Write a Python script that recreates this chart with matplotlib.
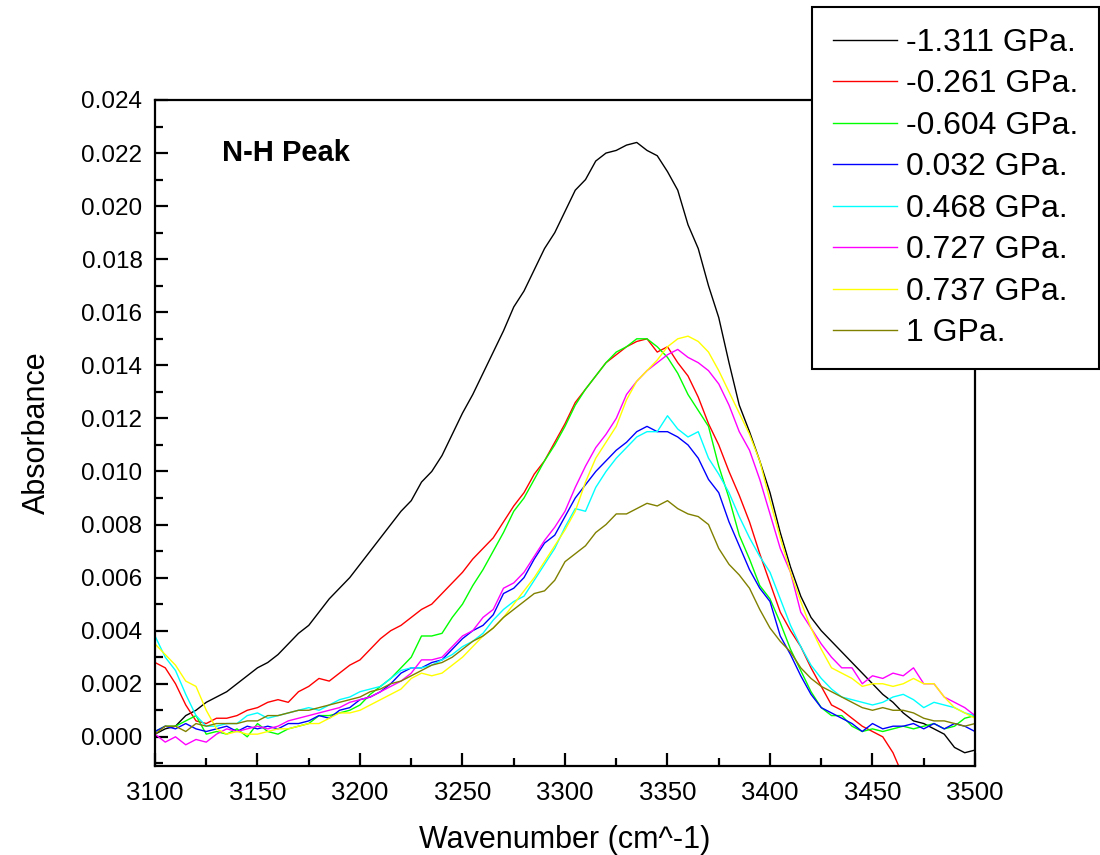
import numpy as np
import matplotlib.pyplot as plt
from matplotlib.ticker import MultipleLocator, FormatStrFormatter

plt.rcParams['font.family'] = ['Liberation Sans', 'DejaVu Sans']

# wavenumber grid (cm^-1), one reading every 5 cm^-1
wn = np.arange(3100, 3501, 5)

labels = ['-1.311 GPa.', '-0.261 GPa.', '-0.604 GPa.', '0.032 GPa.',
          '0.468 GPa.', '0.727 GPa.', '0.737 GPa.', '1 GPa.']
colors = ['#000000', '#ff0000', '#00ff00', '#0000ff',
          '#00ffff', '#ff00ff', '#ffff00', '#808000']

p_m1311 = [0.0001, 0.0003, 0.0004, 0.0008, 0.0010, 0.0013, 0.0015, 0.0017, 0.0020, 0.0023,
           0.0026, 0.0028, 0.0031, 0.0035, 0.0039, 0.0042, 0.0047, 0.0052, 0.0056, 0.0060,
           0.0065, 0.0070, 0.0075, 0.0080, 0.0085, 0.0089, 0.0096, 0.0100, 0.0106, 0.0114,
           0.0122, 0.0129, 0.0137, 0.0145, 0.0153, 0.0162, 0.0168, 0.0176, 0.0184, 0.0190,
           0.0198, 0.0206, 0.0210, 0.0217, 0.0220, 0.0221, 0.0223, 0.0224, 0.0221, 0.0219,
           0.0213, 0.0206, 0.0193, 0.0184, 0.0170, 0.0158, 0.0141, 0.0125, 0.0115, 0.0104,
           0.0092, 0.0077, 0.0064, 0.0053, 0.0045, 0.0040, 0.0036, 0.0032, 0.0028, 0.0024,
           0.0020, 0.0016, 0.0013, 0.0009, 0.0006, 0.0005, 0.0003, 0.0001, -0.0004, -0.0006,
           -0.0005]

p_m0261 = [0.0028, 0.0026, 0.0020, 0.0012, 0.0006, 0.0005, 0.0007, 0.0007, 0.0008, 0.0010,
           0.0011, 0.0013, 0.0014, 0.0013, 0.0017, 0.0019, 0.0022, 0.0021, 0.0024, 0.0027,
           0.0029, 0.0033, 0.0037, 0.0040, 0.0042, 0.0045, 0.0048, 0.0050, 0.0054, 0.0058,
           0.0062, 0.0067, 0.0071, 0.0075, 0.0081, 0.0087, 0.0092, 0.0099, 0.0104, 0.0111,
           0.0118, 0.0126, 0.0131, 0.0136, 0.0141, 0.0144, 0.0147, 0.0149, 0.0150, 0.0145,
           0.0147, 0.0141, 0.0136, 0.0128, 0.0118, 0.0110, 0.0100, 0.0091, 0.0081, 0.0069,
           0.0058, 0.0047, 0.0040, 0.0034, 0.0026, 0.0019, 0.0012, 0.0010, 0.0007, 0.0004,
           0.0002, 0.0000, -0.0006, -0.0015, np.nan, np.nan, np.nan, np.nan, np.nan, np.nan,
           np.nan]

p_m0604 = [0.0002, 0.0004, 0.0004, 0.0006, 0.0008, 0.0001, 0.0002, 0.0001, 0.0003, 0.0000,
           0.0005, 0.0002, 0.0001, 0.0003, 0.0004, 0.0005, 0.0008, 0.0008, 0.0009, 0.0010,
           0.0012, 0.0016, 0.0019, 0.0022, 0.0026, 0.0030, 0.0038, 0.0038, 0.0039, 0.0045,
           0.0050, 0.0057, 0.0063, 0.0070, 0.0077, 0.0085, 0.0090, 0.0097, 0.0104, 0.0110,
           0.0117, 0.0125, 0.0131, 0.0136, 0.0141, 0.0145, 0.0147, 0.0150, 0.0150, 0.0147,
           0.0143, 0.0137, 0.0129, 0.0123, 0.0117, 0.0102, 0.0090, 0.0076, 0.0067, 0.0057,
           0.0052, 0.0043, 0.0033, 0.0025, 0.0017, 0.0011, 0.0008, 0.0008, 0.0004, 0.0002,
           0.0003, 0.0002, 0.0003, 0.0004, 0.0003, 0.0004, 0.0005, 0.0003, 0.0004, 0.0007,
           0.0008]

p_0032 = [0.0002, 0.0004, 0.0003, 0.0005, 0.0003, 0.0002, 0.0003, 0.0004, 0.0002, 0.0004,
          0.0003, 0.0004, 0.0003, 0.0005, 0.0005, 0.0006, 0.0008, 0.0007, 0.0010, 0.0011,
          0.0014, 0.0015, 0.0017, 0.0020, 0.0024, 0.0026, 0.0026, 0.0028, 0.0029, 0.0033,
          0.0037, 0.0040, 0.0042, 0.0046, 0.0054, 0.0056, 0.0060, 0.0067, 0.0073, 0.0076,
          0.0083, 0.0090, 0.0095, 0.0100, 0.0104, 0.0108, 0.0111, 0.0115, 0.0117, 0.0115,
          0.0115, 0.0113, 0.0110, 0.0105, 0.0097, 0.0092, 0.0081, 0.0072, 0.0063, 0.0056,
          0.0051, 0.0038, 0.0031, 0.0023, 0.0016, 0.0011, 0.0009, 0.0007, 0.0005, 0.0002,
          0.0005, 0.0003, 0.0004, 0.0004, 0.0005, 0.0003, 0.0005, 0.0003, 0.0005, 0.0004,
          0.0002]

p_0468 = [0.0038, 0.0030, 0.0025, 0.0016, 0.0008, 0.0004, 0.0004, 0.0005, 0.0005, 0.0008,
          0.0009, 0.0007, 0.0008, 0.0009, 0.0010, 0.0011, 0.0010, 0.0012, 0.0014, 0.0015,
          0.0017, 0.0018, 0.0019, 0.0022, 0.0025, 0.0026, 0.0026, 0.0027, 0.0029, 0.0031,
          0.0034, 0.0036, 0.0039, 0.0044, 0.0048, 0.0051, 0.0053, 0.0059, 0.0065, 0.0071,
          0.0079, 0.0086, 0.0085, 0.0094, 0.0100, 0.0105, 0.0109, 0.0113, 0.0115, 0.0115,
          0.0121, 0.0116, 0.0113, 0.0115, 0.0105, 0.0099, 0.0092, 0.0083, 0.0075, 0.0068,
          0.0062, 0.0052, 0.0042, 0.0034, 0.0027, 0.0022, 0.0018, 0.0015, 0.0014, 0.0013,
          0.0012, 0.0013, 0.0015, 0.0016, 0.0014, 0.0011, 0.0013, 0.0012, 0.0011, 0.0009,
          0.0008]

p_0727 = [0.0001, -0.0002, 0.0000, -0.0003, -0.0001, -0.0002, 0.0001, 0.0003, 0.0002, 0.0003,
          0.0004, 0.0003, 0.0004, 0.0006, 0.0007, 0.0008, 0.0009, 0.0010, 0.0011, 0.0013,
          0.0014, 0.0015, 0.0017, 0.0019, 0.0021, 0.0024, 0.0029, 0.0029, 0.0030, 0.0034,
          0.0038, 0.0040, 0.0045, 0.0048, 0.0056, 0.0058, 0.0062, 0.0068, 0.0074, 0.0079,
          0.0085, 0.0094, 0.0102, 0.0109, 0.0114, 0.0120, 0.0129, 0.0134, 0.0138, 0.0141,
          0.0144, 0.0146, 0.0143, 0.0141, 0.0138, 0.0133, 0.0125, 0.0115, 0.0108, 0.0097,
          0.0084, 0.0071, 0.0062, 0.0047, 0.0041, 0.0035, 0.0030, 0.0026, 0.0026, 0.0020,
          0.0023, 0.0022, 0.0024, 0.0023, 0.0026, 0.0020, 0.0020, 0.0015, 0.0013, 0.0011,
          0.0008]

p_0737 = [0.0035, 0.0031, 0.0027, 0.0021, 0.0019, 0.0010, 0.0003, 0.0001, 0.0002, 0.0001,
          0.0001, 0.0002, 0.0003, 0.0003, 0.0004, 0.0005, 0.0005, 0.0007, 0.0009, 0.0009,
          0.0010, 0.0012, 0.0014, 0.0016, 0.0018, 0.0022, 0.0024, 0.0023, 0.0024, 0.0027,
          0.0030, 0.0034, 0.0038, 0.0041, 0.0045, 0.0050, 0.0055, 0.0060, 0.0066, 0.0072,
          0.0078, 0.0085, 0.0096, 0.0105, 0.0111, 0.0117, 0.0127, 0.0134, 0.0138, 0.0142,
          0.0147, 0.0150, 0.0151, 0.0149, 0.0145, 0.0138, 0.0130, 0.0122, 0.0114, 0.0104,
          0.0089, 0.0075, 0.0062, 0.0051, 0.0041, 0.0033, 0.0026, 0.0024, 0.0022, 0.0019,
          0.0020, 0.0020, 0.0019, 0.0020, 0.0022, 0.0020, 0.0020, 0.0015, 0.0011, 0.0009,
          0.0007]

p_1 = [0.0001, 0.0004, 0.0004, 0.0002, 0.0005, 0.0004, 0.0005, 0.0005, 0.0005, 0.0006,
       0.0006, 0.0008, 0.0008, 0.0009, 0.0010, 0.0010, 0.0011, 0.0012, 0.0013, 0.0014,
       0.0015, 0.0017, 0.0018, 0.0020, 0.0021, 0.0023, 0.0025, 0.0027, 0.0028, 0.0030,
       0.0033, 0.0036, 0.0038, 0.0041, 0.0045, 0.0048, 0.0051, 0.0054, 0.0055, 0.0059,
       0.0066, 0.0069, 0.0072, 0.0077, 0.0080, 0.0084, 0.0084, 0.0086, 0.0088, 0.0087,
       0.0089, 0.0086, 0.0084, 0.0083, 0.0080, 0.0071, 0.0065, 0.0061, 0.0056, 0.0048,
       0.0041, 0.0036, 0.0032, 0.0026, 0.0022, 0.0019, 0.0017, 0.0015, 0.0013, 0.0011,
       0.0010, 0.0011, 0.0010, 0.0010, 0.0009, 0.0007, 0.0006, 0.0006, 0.0005, 0.0004,
       0.0005]

series = [p_m1311, p_m0261, p_m0604, p_0032, p_0468, p_0727, p_0737, p_1]

fig = plt.figure(figsize=(11, 8.55), dpi=100)
ax = fig.add_axes([155/1100, 1 - 766/855, 820/1100, 666/855])

for y, c, lab in zip(series, colors, labels):
    ax.plot(wn, y, color=c, lw=1.0, label=lab)

ax.set_xlim(3100, 3500)
ax.set_ylim(-0.0011, 0.024)
ax.xaxis.set_major_locator(MultipleLocator(50))
ax.xaxis.set_minor_locator(MultipleLocator(25))
ax.yaxis.set_major_locator(MultipleLocator(0.002))
ax.yaxis.set_minor_locator(MultipleLocator(0.001))
ax.yaxis.set_major_formatter(FormatStrFormatter('%.3f'))

for s in ax.spines.values():
    s.set_linewidth(1.6)
ax.tick_params(which='both', direction='in', top=False, right=False, width=1.6)
ax.tick_params(which='major', length=9.5, pad=9)
ax.tick_params(which='minor', length=5.5)
ax.tick_params(axis='y', labelsize=17.5)
ax.tick_params(axis='x', which='major', pad=11, labelsize=18.5)

ax.set_xlabel('Wavenumber (cm^-1)', fontsize=22, labelpad=14)
ax.set_ylabel('Absorbance', fontsize=22, labelpad=21)
ax.text(0.082, 0.92, 'N-H Peak', transform=ax.transAxes, fontsize=21,
        fontweight='bold', ha='left', va='center')

leg = fig.legend(loc='upper left', bbox_to_anchor=(812/1100, 1 - 7/855),
                 bbox_transform=fig.transFigure, borderaxespad=0, fontsize=23,
                 frameon=True, fancybox=False, edgecolor='black',
                 handlelength=2.0, handletextpad=0.3, labelspacing=0.36,
                 borderpad=0.65)
leg.get_frame().set_linewidth(1.5)
leg.get_frame().set_alpha(1)

fig.savefig('out.png', dpi=100)
